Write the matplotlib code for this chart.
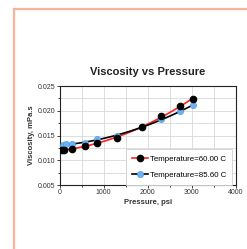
import numpy as np
import matplotlib
matplotlib.use("Agg")
import matplotlib.pyplot as plt
from matplotlib.lines import Line2D
from matplotlib.ticker import MultipleLocator, FormatStrFormatter

plt.rcParams['font.family'] = ['Liberation Sans', 'DejaVu Sans']

# data
p60 = [50, 110, 280, 580, 860, 1300, 1870, 2310, 2730, 3030]
v60 = [0.01207, 0.01207, 0.0122, 0.01288, 0.01342, 0.01456, 0.01678, 0.01887, 0.02096, 0.02243]
p86 = [70, 140, 280, 580, 850, 1300, 1870, 2310, 2730, 3030]
v86 = [0.01308, 0.01322, 0.01322, 0.01355, 0.01424, 0.01496, 0.01670, 0.01827, 0.01995, 0.0211]
labels = ["Temperature=60.00 C", "Temperature=85.60 C"]

W, H = 247, 249
fig = plt.figure(figsize=(W/100, H/100), dpi=100)
fig.patch.set_facecolor("white")

# salmon frame on left and top
border = "#f9b29b"
fig.add_artist(Line2D([13.5/W, 13.5/W], [0, 1 - 9.5/H], color=border, lw=1.6, transform=fig.transFigure))
fig.add_artist(Line2D([13.5/W, 1], [1 - 9.5/H, 1 - 9.5/H], color=border, lw=1.6, transform=fig.transFigure))

ax = fig.add_axes([59.5/W, 1 - 185/H, 176.5/W, 99/H])

# trend lines fitted to the points
xs = np.linspace(p60[0], p60[-1], 100)
ax.plot(xs, np.polyval(np.polyfit(p60, v60, 2), xs), color="#ff2020", lw=1.2, zorder=3)
xs2 = np.linspace(p86[0], p86[-1], 100)
ax.plot(xs2, np.polyval(np.polyfit(p86, v86, 2), xs2), color="black", lw=1.2, zorder=3)

ax.plot(p86, v86, 'o', color="#6ab4f5", mec="#4a90d8", mew=0.4, ms=4.5, zorder=4)
ax.plot(p60, v60, 'o', color="black", ms=4.5, zorder=5)

h1 = Line2D([], [], color="#ff2020", lw=1.2, marker='o', mfc="black", mec="black", ms=4.5)
h2 = Line2D([], [], color="black", lw=1.2, marker='o', mfc="#6ab4f5", mec="#4a90d8", mew=0.4, ms=4.5)
leg = ax.legend([h1, h2], labels, loc="lower left", bbox_to_anchor=(0.377, 0.0), fontsize=5.7,
                frameon=True, fancybox=False, edgecolor="#d0d0d0", framealpha=1,
                handlelength=2.0, borderpad=0.8, labelspacing=1.0, handletextpad=0.2,
                borderaxespad=0.0)
leg.get_frame().set_linewidth(0.6)

ax.set_xlim(0, 4000)
ax.set_ylim(0.005, 0.025)
ax.xaxis.set_major_locator(MultipleLocator(1000))
ax.xaxis.set_minor_locator(MultipleLocator(500))
ax.yaxis.set_major_locator(MultipleLocator(0.005))
ax.yaxis.set_minor_locator(MultipleLocator(0.0025))
ax.yaxis.set_major_formatter(FormatStrFormatter('%.3f'))
ax.grid(True, which="both", color="#d8d8d8", lw=0.6)
ax.set_axisbelow(True)
for s in ax.spines.values():
    s.set_linewidth(0.8)
    s.set_color("#222222")
ax.tick_params(which="both", labelsize=5, length=2, width=0.6, pad=1, colors="#222222", labelcolor="#333333")
ax.tick_params(which="minor", length=1.5)

ax.set_xlabel("Pressure, psi", fontsize=5.5, fontweight="bold", labelpad=2, color="#333333")
ax.set_ylabel("Viscosity, mPa.s", fontsize=5.5, fontweight="bold", labelpad=2, color="#333333")
ax.set_title("Viscosity vs Pressure", fontsize=8, fontweight="bold", pad=8, color="#222222")

fig.savefig("out.png", dpi=100)
